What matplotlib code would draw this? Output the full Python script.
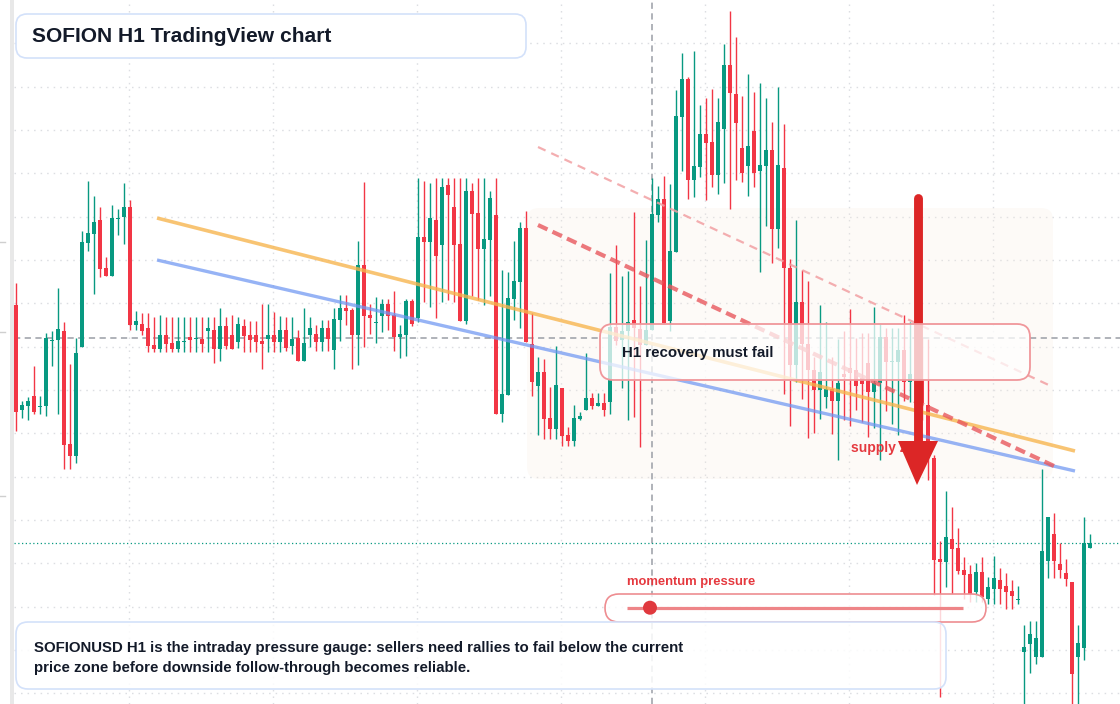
import matplotlib
matplotlib.use("Agg")
import matplotlib.pyplot as plt
import matplotlib.transforms as mtransforms
from matplotlib.patches import FancyBboxPatch, Polygon, Rectangle, Circle
import numpy as np

plt.rcParams['font.family'] = ['Liberation Sans', 'DejaVu Sans']
plt.rcParams['lines.scale_dashes'] = False

# ---------------- data (H1 candles, arbitrary price units) ----------------
opens = [
    399, 294, 298, 308, 297, 298, 363, 364, 373, 260,
    248, 357, 461, 470, 484, 436, 428, 485, 487, 497,
    379, 380, 376, 359, 355, 369, 361, 355, 362, 367,
    365, 365, 373, 374, 355, 378, 369, 362, 378, 369,
    369, 363, 365, 369, 362, 374, 358, 366, 343, 369,
    370, 362, 376, 354, 384, 396, 394, 369, 439, 389,
    381, 388, 400, 389, 367, 369, 403, 386, 467, 462,
    484, 459, 519, 497, 460, 383, 513, 491, 455, 464,
    489, 290, 309, 405, 422, 476, 360, 318, 332, 286,
    275, 316, 269, 263, 285, 294, 306, 298, 301, 302,
    377, 364, 373, 384, 375, 359, 374, 489, 505, 383,
    452, 587, 625, 524, 537, 570, 562, 529, 575, 639,
    610, 556, 538, 573, 533, 538, 554, 475, 536, 436,
    339, 402, 360, 334, 314, 307, 315, 303, 330, 336,
    334, 326, 341, 312, 321, 367, 342, 342, 354, 322,
    330, 324, 299, 246, 145, 142, 165, 156, 134, 130,
    112, 132, 105, 115, 124, 118, 113, 104, 52, 60,
    47, 47, 143, 170, 140, 131, 122, 47, 56, 156,
]
highs = [
    421, 303, 307, 338, 308, 371, 373, 416, 382, 340,
    366, 473, 523, 508, 497, 447, 499, 495, 521, 504,
    393, 391, 391, 387, 389, 387, 387, 387, 387, 387,
    387, 387, 387, 387, 396, 387, 389, 387, 385, 383,
    383, 400, 400, 392, 388, 387, 387, 374, 396, 387,
    379, 384, 384, 396, 409, 409, 396, 463, 522, 400,
    407, 405, 405, 413, 379, 405, 405, 526, 523, 521,
    526, 526, 526, 526, 526, 526, 521, 526, 526, 513,
    526, 434, 432, 463, 482, 493, 391, 347, 345, 317,
    358, 316, 277, 299, 292, 351, 311, 311, 311, 431,
    459, 428, 433, 492, 418, 464, 526, 518, 528, 520,
    614, 651, 627, 653, 599, 606, 615, 606, 660, 693,
    667, 608, 630, 612, 621, 606, 582, 617, 580, 445,
    484, 434, 423, 347, 399, 382, 347, 365, 373, 395,
    366, 371, 371, 397, 380, 376, 376, 376, 389, 382,
    370, 366, 365, 249, 163, 213, 197, 176, 147, 139,
    141, 147, 127, 148, 136, 131, 124, 118, 79, 83,
    83, 235, 187, 191, 161, 145, 122, 79, 187, 170,
]
lows = [
    273, 286, 284, 290, 290, 288, 338, 290, 235, 235,
    241, 357, 453, 410, 427, 428, 428, 469, 460, 374,
    374, 369, 352, 352, 352, 352, 352, 352, 352, 352,
    352, 352, 352, 341, 343, 355, 355, 356, 352, 352,
    352, 335, 352, 352, 352, 353, 350, 343, 343, 357,
    353, 353, 353, 335, 363, 379, 335, 339, 357, 370,
    361, 372, 374, 353, 346, 348, 378, 382, 402, 397,
    386, 402, 404, 402, 383, 380, 408, 404, 399, 408,
    290, 282, 309, 384, 376, 362, 308, 269, 265, 265,
    265, 258, 258, 258, 284, 294, 295, 298, 288, 290,
    359, 316, 284, 287, 257, 359, 374, 482, 381, 373,
    452, 533, 505, 507, 527, 504, 517, 510, 521, 495,
    524, 522, 508, 517, 432, 478, 441, 456, 310, 278,
    322, 305, 266, 271, 285, 296, 270, 244, 284, 278,
    294, 282, 267, 276, 244, 293, 280, 269, 303, 302,
    294, 284, 224, 109, 7, 117, 110, 130, 105, 102,
    102, 102, 100, 100, 100, 95, 95, 100, -6, 31,
    40, 47, 126, 126, 126, 118, -6, -6, 44, 156,
]
closes = [
    292, 299, 303, 292, 298, 366, 364, 375, 259, 248,
    351, 462, 471, 482, 435, 428, 486, 486, 497, 379,
    383, 373, 358, 355, 369, 360, 355, 363, 363, 364,
    366, 360, 376, 355, 378, 358, 355, 380, 368, 364,
    362, 360, 369, 362, 374, 356, 365, 343, 361, 376,
    362, 376, 365, 385, 396, 393, 369, 439, 388, 386,
    382, 400, 388, 367, 370, 403, 380, 467, 462, 486,
    448, 517, 509, 459, 383, 513, 490, 455, 465, 506,
    290, 310, 406, 423, 476, 362, 322, 332, 285, 275,
    319, 268, 263, 286, 288, 306, 298, 301, 294, 377,
    363, 373, 382, 376, 359, 374, 490, 505, 381, 453,
    588, 625, 524, 538, 570, 561, 529, 582, 639, 611,
    581, 531, 558, 531, 539, 554, 475, 539, 436, 339,
    402, 360, 334, 314, 332, 315, 303, 321, 327, 331,
    318, 320, 312, 321, 367, 342, 343, 354, 322, 330,
    324, 301, 246, 144, 142, 167, 155, 133, 129, 110,
    132, 107, 117, 126, 115, 112, 108, 105, 57, 70,
    66, 153, 187, 143, 134, 125, 30, 61, 161, 161,
]

# trend lines: (bar index, price) endpoints
orange_trend = ([23.55, 176.55], [486, 253])
blue_trend = ([23.55, 176.55], [444, 233])
supply_dash = ([87.05, 173.05], [479, 238])
upper_dash = ([87.05, 172.7], [557, 317.5])
crosshair_price = 366
crosshair_bar = 106
last_price = closes[-1]

title_text = "SOFION H1 TradingView chart"
label_text = "H1 recovery must fail"
zone_text = "supply zone"
gauge_text = "momentum pressure"
note_lines = ["SOFIONUSD H1 is the intraday pressure gauge: sellers need rallies to fail below the current",
              "price zone before downside follow-through becomes reliable."]

UP = '#089981'
DOWN = '#f23645'
TXT = '#131a29'

# ---------------- figure ----------------
W, H = 1120, 704
fig = plt.figure(figsize=(W / 100, H / 100), dpi=100)
ax = fig.add_axes([0, 0, 1, 1])
step = 6.0
x0 = 15.7
ax.set_xlim((0 - x0) / step, (W - x0) / step)
ax.set_ylim(0, 704)
ax.axis('off')
fig.patch.set_facecolor('white')

# pixel transform for annotations (origin top-left)
px = mtransforms.Affine2D().scale(1 / W, -1 / H).translate(0, 1) + fig.transFigure

left_i = (14 - x0) / step
right_i = (W - x0) / step

# grid
grid_col = '#dcdee2'
for k in range(1, 17):
    p = 704 - 43.333 * k
    ax.plot([left_i, right_i], [p, p], color=grid_col, lw=1.0, ls=(0, (1.1, 3.6)), zorder=0.5)
for k in range(0, 7):
    gi = 18.88 + 24 * k
    ax.plot([gi, gi], [0, 704], color=grid_col, lw=1.0, ls=(0, (1.1, 3.6)), zorder=0.5)

# left strip and tiny marks
ax.add_patch(Rectangle((10, 0), 4, 704, transform=px, color='#e8e8e8', zorder=0.6, lw=0))
for yy in [242, 332, 496]:
    ax.plot([0, 5], [yy, yy], transform=px, color='#cfcfcf', lw=1, zorder=0.6)

# supply zone shade
ax.add_patch(FancyBboxPatch((527, 208), 526, 271, boxstyle="round,pad=0,rounding_size=12",
                            transform=px, facecolor='#f8ece0', edgecolor='none', alpha=0.24, zorder=1))

# crosshair
ax.plot([left_i, right_i], [crosshair_price] * 2, color='#9a9ea6', lw=1.1, ls=(0, (4.5, 3.2)), zorder=2)
ax.plot([crosshair_bar] * 2, [0, 704], color='#9a9ea6', lw=1.1, ls=(0, (4.5, 3.2)), zorder=2)
# last price
ax.plot([left_i, right_i], [last_price] * 2, color=UP, lw=0.9, ls=(0, (0.9, 1.8)), zorder=2)

# candles
idx = np.arange(len(opens))
o = np.array(opens, float); c = np.array(closes, float)
h = np.array(highs, float); l = np.array(lows, float)
cols = np.where(c >= o, UP, DOWN)
ax.vlines(idx, l, h, colors=cols, lw=1.0, zorder=3)
body_lo = np.minimum(o, c)
body_h = np.maximum(np.abs(c - o), 1.3)
ax.bar(idx, body_h, bottom=body_lo, width=0.72, color=cols, edgecolor='none', zorder=3.1)

# trend lines
ax.plot(*orange_trend, color='#f7b44c', alpha=0.78, lw=2.6, solid_capstyle='butt', zorder=4)
ax.plot(*blue_trend, color='#6e96f2', alpha=0.72, lw=2.4, solid_capstyle='butt', zorder=4)
ax.plot(*supply_dash, color='#e8585d', alpha=0.8, lw=3.0, ls=(0, (7.5, 4.0)), zorder=4.1)
ax.plot(*upper_dash, color='#f2a0a3', alpha=0.85, lw=1.6, ls=(0, (6.0, 4.5)), zorder=4.1)

# supply zone text
ax.text(851, 448, zone_text, transform=px, color='#e5393f', fontsize=10, fontweight='bold',
        va='center', ha='left', zorder=4.5)

# arrow
ax.plot([918, 918], [198, 442], transform=px, color='#dc2626', lw=6.4, solid_capstyle='round', zorder=5)
ax.add_patch(Polygon([[898, 441], [938, 441], [917, 485]], closed=True, transform=px,
                     facecolor='#dc2626', edgecolor='none', zorder=5))

# label box
ax.add_patch(FancyBboxPatch((600, 324), 430, 56, boxstyle="round,pad=0,rounding_size=13",
                            transform=px, facecolor=(1, 1, 1, 0.74), edgecolor='#f0979b', lw=1.3, zorder=6))
ax.text(622, 353, label_text, transform=px, color=TXT, fontsize=10.8, fontweight='bold',
        va='center', ha='left', zorder=6.5)

# momentum gauge
ax.text(627, 582.5, gauge_text, transform=px, color='#e5393f', fontsize=9.4, fontweight='bold',
        va='center', ha='left', zorder=6.5)
ax.add_patch(FancyBboxPatch((605, 594), 381, 28, boxstyle="round,pad=0,rounding_size=14",
                            transform=px, facecolor=(1, 1, 1, 0.8), edgecolor='#ee8d91', lw=1.2, zorder=6))
ax.plot([627, 963], [607.7, 607.7], transform=px, color='#ee8588', lw=2.3, solid_capstyle='butt', zorder=6.6)
ax.add_patch(Circle((650, 607.7), 7, transform=px, facecolor='#e0393e', edgecolor='none', zorder=6.7))

# bottom note box
ax.add_patch(FancyBboxPatch((16, 622), 930, 67, boxstyle="round,pad=0,rounding_size=12",
                            transform=px, facecolor=(1, 1, 1, 0.86), edgecolor='#d3e1fa', lw=1.2, zorder=6.2))
ax.text(34, 648, note_lines[0], transform=px, color=TXT, fontsize=10.8, fontweight='bold',
        va='center', ha='left', zorder=6.5)
ax.text(34, 668, note_lines[1], transform=px, color=TXT, fontsize=10.8, fontweight='bold',
        va='center', ha='left', zorder=6.5)

# title box
ax.add_patch(FancyBboxPatch((16, 14), 510, 44, boxstyle="round,pad=0,rounding_size=11",
                            transform=px, facecolor='white', edgecolor='#d3e1fa', lw=1.2, zorder=7))
ax.text(32, 36.5, title_text, transform=px, color=TXT, fontsize=15.1, fontweight='bold',
        va='center', ha='left', zorder=7.5)

fig.savefig('out.png', dpi=100)
